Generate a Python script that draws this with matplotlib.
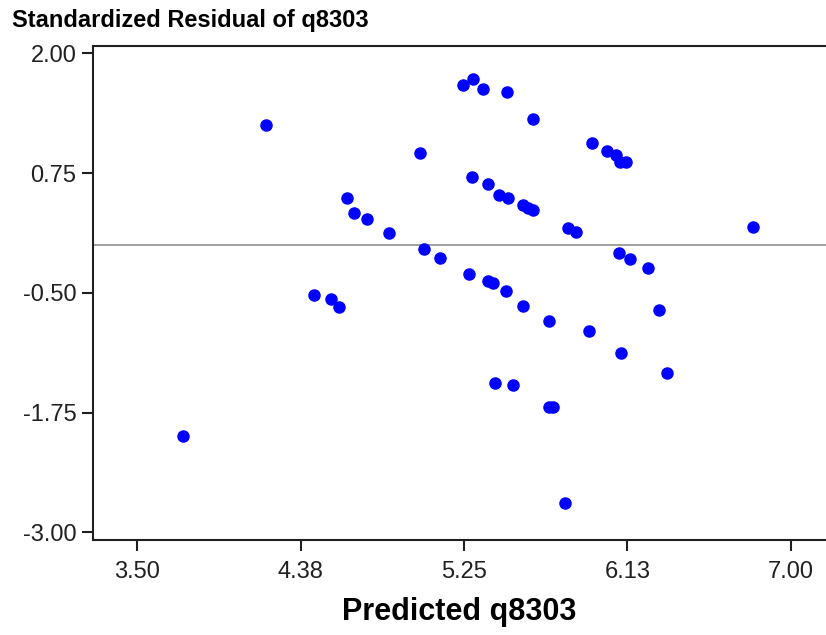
import numpy as np
import matplotlib
matplotlib.use("Agg")
import matplotlib.pyplot as plt

# predicted values (x) and standardized residuals (y)
predicted = [3.743, 4.189, 4.448, 4.538, 4.580, 4.622, 4.661, 4.729, 4.850, 5.013,
             5.036, 5.121, 5.243, 5.297, 5.350, 5.479, 5.618, 5.934, 6.018, 6.064,
             6.086, 6.118, 5.295, 5.380, 5.439, 5.487, 5.568, 5.594, 5.621, 5.809,
             5.848, 6.796, 5.277, 5.380, 5.407, 5.473, 5.568, 5.707, 5.920, 6.081,
             6.139, 6.237, 6.296, 6.089, 6.339, 5.416, 5.514, 5.703, 5.727, 5.793]
residual = [-1.99, 1.255, -0.526, -0.568, -0.645, 0.493, 0.336, 0.267, 0.127, 0.962,
            -0.046, -0.140, 1.666, 1.735, 1.624, 1.593, 1.311, 1.061, 0.983, 0.938,
            0.868, 0.865, 0.706, 0.633, 0.521, 0.486, 0.417, 0.388, 0.364, 0.173,
            0.138, 0.190, -0.304, -0.374, -0.401, -0.481, -0.635, -0.794, -0.899, -0.088,
            -0.150, -0.244, -0.680, -1.132, -1.340, -1.445, -1.462, -1.695, -1.692, -2.697]

x_ticks = [3.5, 4.375, 5.25, 6.125, 7.0]
x_tick_labels = ["3.50", "4.38", "5.25", "6.13", "7.00"]
y_ticks = [2.0, 0.75, -0.5, -1.75, -3.0]
y_tick_labels = ["2.00", "0.75", "-0.50", "-1.75", "-3.00"]

plt.rcParams["font.family"] = ["Liberation Sans", "DejaVu Sans"]

W, H = 826, 635
fig = plt.figure(figsize=(W / 100, H / 100), dpi=100)
left, right, top, bottom = 93, 826, 45.7, 540
ax = fig.add_axes([left / W, 1 - bottom / H, (right - left) / W, (bottom - top) / H])

ax.axhline(0, color="#909090", lw=1.2, zorder=1)
ax.plot(predicted, residual, "o", color="#0000ff", ms=8, mec="#0000ff", zorder=3, clip_on=False)

ax.set_xlim(3.263, 7.189)
ax.set_ylim(-3.08, 2.08)
ax.set_xticks(x_ticks)
ax.set_xticklabels(x_tick_labels)
ax.set_yticks(y_ticks)
ax.set_yticklabels(y_tick_labels)

ax.spines["right"].set_visible(False)
for s in ["left", "bottom", "top"]:
    ax.spines[s].set_linewidth(1.5)
    ax.spines[s].set_color("#202020")
ax.tick_params(axis="both", length=8, width=1.5, color="#202020",
               labelsize=17, labelcolor="#202020")
ax.tick_params(axis="x", pad=7)
ax.tick_params(axis="y", pad=4)

ax.set_xlabel("Predicted q8303", fontsize=22, fontweight="bold", labelpad=10)
fig.text(12 / W, 1 - 20 / H, "Standardized Residual of q8303", fontsize=17,
         fontweight="bold", va="center", ha="left")

fig.savefig("out.png", dpi=100)
